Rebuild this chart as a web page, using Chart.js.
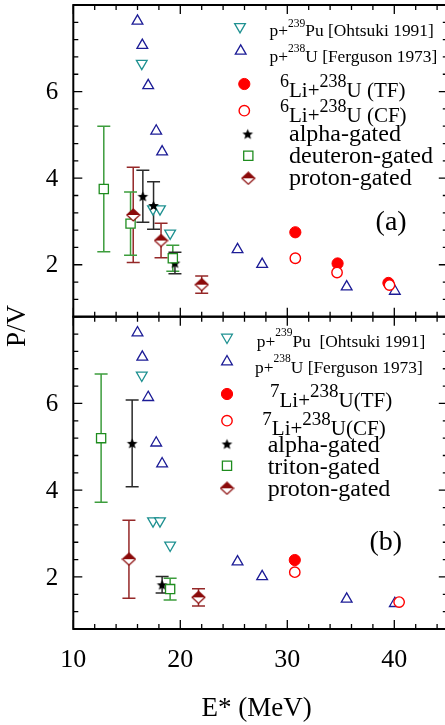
<!DOCTYPE html>
<html lang="en">
<head>
<meta charset="UTF-8" />
<title>P/V vs E*</title>
<script src="https://cdn.jsdelivr.net/npm/chart.js@4.4.1/dist/chart.umd.min.js"></script>
<style>
  html, body { margin: 0; padding: 0; background: #fff; overflow: hidden; }
  #wrap { position: relative; width: 450px; height: 725px; overflow: hidden; }
  canvas { position: absolute; left: 0; top: 0; }
</style>
</head>
<body>
<div id="wrap">
  <canvas id="chartA" width="450" height="725" style="width:450px;height:725px"></canvas>
  <canvas id="chartB" width="450" height="725" style="width:450px;height:725px"></canvas>
</div>
<script>
// reference systematics, same in both panels
const ohtsukiE = [16.4, 17.45, 18.1, 19.05];
const ohtsukiPV = [6.65, 3.29, 3.29, 2.73];
const fergusonE = [16.0, 16.45, 17.0, 17.75, 18.3, 25.35, 27.65, 35.55, 40.05];
const fergusonPV = [7.63, 7.07, 6.14, 5.09, 4.61, 2.35, 2.01, 1.49, 1.39];

// panel (a): 6Li + 238U
const li6TfE = [30.75, 34.7, 39.45];
const li6TfPV = [2.75, 2.03, 1.58];
const li6CfE = [30.75, 34.65, 39.55];
const li6CfPV = [2.15, 1.82, 1.53];
const li6AlphaE = [16.5, 17.5, 19.5];
const li6AlphaPV = [3.58, 3.37, 2.04];
const li6AlphaErr = [0.6, 0.55, 0.25];
const li6DeutE = [12.85, 15.35, 19.3];
const li6DeutPV = [3.75, 2.95, 2.15];
const li6DeutErr = [1.45, 0.73, 0.3];
const li6ProtE = [15.6, 18.2, 22.0];
const li6ProtPV = [3.15, 2.56, 1.54];
const li6ProtErr = [1.1, 0.4, 0.2];

// panel (b): 7Li + 238U
const li7TfE = [30.7];
const li7TfPV = [2.39];
const li7CfE = [30.7, 40.45];
const li7CfPV = [2.11, 1.42];
const li7AlphaE = [15.5, 18.3];
const li7AlphaPV = [5.08, 1.82];
const li7AlphaErr = [1.0, 0.19];
const li7TritE = [12.6, 19.05];
const li7TritPV = [5.2, 1.72];
const li7TritErr = [1.48, 0.25];
const li7ProtE = [15.2, 21.7];
const li7ProtPV = [2.41, 1.53];
const li7ProtErr = [0.9, 0.2];

const xTicks = [10, 20, 30, 40];
const yTicks = [2, 4, 6];
const xMin = 10, xMax = 45, xMinor = 2;
const yMin = 0.8, yMax = 8, yMinor = 0.4;

const legendA = ['p+^{239}Pu [Ohtsuki 1991]', 'p+^{238}U [Ferguson 1973]', '^{6}Li+^{238}U (TF)',
  '^{6}Li+^{238}U (CF)', 'alpha-gated', 'deuteron-gated', 'proton-gated'];
const legendB = ['p+^{239}Pu  [Ohtsuki 1991]', 'p+^{238}U [Ferguson 1973]', '^{7}Li+^{238}U(TF)',
  '^{7}Li+^{238}U(CF)', 'alpha-gated', 'triton-gated', 'proton-gated'];

const FONT = "'Liberation Serif', 'Times New Roman', serif";
Chart.defaults.font.family = FONT;
Chart.defaults.color = '#000';

const teal = '#1f9191', navy = '#1c1c96', red = '#ff0000', green = '#1e8c1e', maroon = '#8b0a0a';

function pts(xs, ys) { return xs.map((x, i) => ({ x: x, y: ys[i] })); }

function starImage(color) {
  const c = document.createElement('canvas');
  c.width = 13; c.height = 13;
  const g = c.getContext('2d');
  const R = 5.6, r = 2.5, cx = 6.5, cy = 7;
  g.beginPath();
  for (let i = 0; i < 10; i++) {
    const a = -Math.PI / 2 + i * Math.PI / 5;
    const rr = i % 2 ? r : R;
    g.lineTo(cx + rr * Math.cos(a), cy + rr * Math.sin(a));
  }
  g.closePath();
  g.fillStyle = color;
  g.fill();
  return c;
}

function halfDiamond(color) {
  const c = document.createElement('canvas');
  c.width = 15; c.height = 14;
  const g = c.getContext('2d');
  const cx = 7.5, cy = 7, w = 6.5, h = 6;
  g.beginPath();
  g.moveTo(cx, cy - h); g.lineTo(cx + w, cy); g.lineTo(cx, cy + h); g.lineTo(cx - w, cy); g.closePath();
  g.fillStyle = '#fff'; g.fill();
  g.beginPath();
  g.moveTo(cx, cy - h); g.lineTo(cx + w, cy); g.lineTo(cx - w, cy); g.closePath();
  g.fillStyle = color; g.fill();
  g.beginPath();
  g.moveTo(cx, cy - h); g.lineTo(cx + w, cy); g.lineTo(cx, cy + h); g.lineTo(cx - w, cy); g.closePath();
  g.strokeStyle = color; g.lineWidth = 1.2; g.stroke();
  return c;
}

const starImg = starImage('#000');
const diamondImg = halfDiamond(maroon);

// marker styles, used for the plot and for the hand drawn legend
const mOhtsuki = { pointStyle: 'triangle', pointRotation: 180, pointRadius: 6.2, pointBorderColor: teal, pointBackgroundColor: '#fff', pointBorderWidth: 1.3 };
const mFerguson = { pointStyle: 'triangle', pointRotation: 0, pointRadius: 6.2, pointBorderColor: navy, pointBackgroundColor: '#fff', pointBorderWidth: 1.3 };
const mTF = { pointStyle: 'circle', pointRadius: 5.6, pointBorderColor: red, pointBackgroundColor: red, pointBorderWidth: 1 };
const mCF = { pointStyle: 'circle', pointRadius: 5.2, pointBorderColor: red, pointBackgroundColor: '#fff', pointBorderWidth: 1.4 };
const mAlpha = { pointStyle: starImg, pointRadius: 6 };
const mLight = { pointStyle: 'rect', pointRadius: 6.5, pointBorderColor: green, pointBackgroundColor: '#fff', pointBorderWidth: 1.3 };
const mProt = { pointStyle: diamondImg, pointRadius: 6 };
const legendMarkers = [mOhtsuki, mFerguson, mTF, mCF, mAlpha, mLight, mProt];

function panelDatasets(p) {
  // first dataset is drawn on top
  return [
    Object.assign({ label: 'proton-gated', data: pts(p.protE, p.protPV), err: p.protErr, errColor: '#952828' }, mProt),
    Object.assign({ label: p.lightName, data: pts(p.lightE, p.lightPV), err: p.lightErr, errColor: '#3d9d3d' }, mLight),
    Object.assign({ label: 'alpha-gated', data: pts(p.alphaE, p.alphaPV), err: p.alphaErr, errColor: '#2a2a2a' }, mAlpha),
    Object.assign({ label: 'CF', data: pts(p.cfE, p.cfPV) }, mCF),
    Object.assign({ label: 'TF', data: pts(p.tfE, p.tfPV) }, mTF),
    Object.assign({ label: 'Ferguson 1973', data: pts(fergusonE, fergusonPV) }, mFerguson),
    Object.assign({ label: 'Ohtsuki 1991', data: pts(ohtsukiE, ohtsukiPV) }, mOhtsuki)
  ];
}

const errorBars = {
  id: 'errorBars',
  beforeDatasetsDraw(chart) {
    const ctx = chart.ctx, xs = chart.scales.x, ys = chart.scales.y;
    ctx.save();
    ctx.lineWidth = 1.5;
    chart.data.datasets.forEach(ds => {
      if (!ds.err) return;
      ctx.strokeStyle = ds.errColor;
      ds.data.forEach((p, j) => {
        const px = xs.getPixelForValue(p.x);
        const top = ys.getPixelForValue(p.y + ds.err[j]);
        const bot = ys.getPixelForValue(p.y - ds.err[j]);
        ctx.beginPath();
        ctx.moveTo(px, top); ctx.lineTo(px, bot);
        ctx.moveTo(px - 6.5, top); ctx.lineTo(px + 6.5, top);
        ctx.moveTo(px - 6.5, bot); ctx.lineTo(px + 6.5, bot);
        ctx.stroke();
      });
    });
    ctx.restore();
  }
};

// box, inward ticks and tick labels (the Chart.js axes are hidden so the plot area is exact)
function framePlugin(bottom) {
  return {
    id: 'frame',
    afterDraw(chart) {
      const ctx = chart.ctx, a = chart.chartArea, xs = chart.scales.x, ys = chart.scales.y;
      ctx.save();
      ctx.strokeStyle = '#000';
      ctx.lineWidth = 2;
      ctx.strokeRect(a.left, a.top, a.right - a.left, a.bottom - a.top);
      ctx.lineWidth = 1.3;
      ctx.beginPath();
      const nx = Math.round((xMax - xMin) / xMinor);
      for (let i = 0; i <= nx; i++) {
        const v = xMin + i * xMinor;
        const px = xs.getPixelForValue(v);
        const len = v % 10 === 0 ? 9 : 5;
        ctx.moveTo(px, a.bottom); ctx.lineTo(px, a.bottom - len);
        ctx.moveTo(px, a.top); ctx.lineTo(px, a.top + len);
      }
      const ny = Math.round((yMax - yMin) / yMinor);
      for (let i = 0; i <= ny; i++) {
        const v = yMin + i * yMinor;
        const py = ys.getPixelForValue(v);
        const major = Math.abs(v / 2 - Math.round(v / 2)) < 1e-6;
        const len = major ? 9 : 5;
        ctx.moveTo(a.left, py); ctx.lineTo(a.left + len, py);
        ctx.moveTo(a.right, py); ctx.lineTo(a.right - len, py);
      }
      ctx.stroke();

      ctx.fillStyle = '#000';
      ctx.font = '25px ' + FONT;
      ctx.textAlign = 'right';
      ctx.textBaseline = 'middle';
      yTicks.forEach(v => ctx.fillText(String(v), a.left - 15, ys.getPixelForValue(v) + 1));
      if (bottom) {
        ctx.font = '26px ' + FONT;
        ctx.textAlign = 'center';
        xTicks.forEach(v => ctx.fillText(String(v), xs.getPixelForValue(v), a.bottom + 31));
        ctx.font = '27px ' + FONT;
        ctx.fillText('E* (MeV)', 256.7, 709);
      }
      ctx.restore();
    }
  };
}

function drawRich(ctx, str, x, y, base, sup, raise) {
  const parts = str.split(/(\^\{[^}]*\})/).filter(Boolean);
  let cx = x;
  parts.forEach(part => {
    const isSup = part.startsWith('^{');
    const t = isSup ? part.slice(2, -1) : part;
    ctx.font = (isSup ? sup : base) + 'px ' + FONT;
    ctx.fillText(t, cx, isSup ? y - raise : y);
    cx += ctx.measureText(t).width;
  });
}

function drawMarker(ctx, m, x, y) {
  if (typeof m.pointStyle !== 'string') {
    ctx.drawImage(m.pointStyle, x - m.pointStyle.width / 2, y - m.pointStyle.height / 2);
    return;
  }
  const r = m.pointRadius;
  ctx.beginPath();
  if (m.pointStyle === 'circle') {
    ctx.arc(x, y, r, 0, Math.PI * 2);
  } else if (m.pointStyle === 'rect') {
    const s = r * Math.SQRT1_2;
    ctx.rect(x - s, y - s, 2 * s, 2 * s);
  } else {
    const rot = (m.pointRotation || 0) * Math.PI / 180;
    for (let k = 0; k < 3; k++) {
      const ang = rot + k * 2 * Math.PI / 3;
      ctx.lineTo(x + Math.sin(ang) * r, y - Math.cos(ang) * r);
    }
    ctx.closePath();
  }
  ctx.fillStyle = m.pointBackgroundColor;
  ctx.fill();
  ctx.lineWidth = m.pointBorderWidth;
  ctx.strokeStyle = m.pointBorderColor;
  ctx.stroke();
}

function legendPlugin(labels, lay) {
  return {
    id: 'pvLegend',
    afterDatasetsDraw(chart) {
      const ctx = chart.ctx;
      ctx.save();
      ctx.textBaseline = 'alphabetic';
      ctx.textAlign = 'left';
      labels.forEach((lab, i) => {
        drawMarker(ctx, legendMarkers[i], lay.mx[i], lay.my[i]);
        const f = lay.font[i];
        ctx.fillStyle = '#000';
        drawRich(ctx, lab, lay.tx[i], lay.ty[i], f[0], f[1] || f[0], f[2] || 0);
      });
      ctx.restore();
    }
  };
}

function panelTag(text, xv, yv) {
  return {
    id: 'panelTag',
    afterDatasetsDraw(chart) {
      const ctx = chart.ctx;
      ctx.save();
      ctx.font = '28px ' + FONT;
      ctx.fillStyle = '#000';
      ctx.textAlign = 'center';
      ctx.textBaseline = 'alphabetic';
      ctx.fillText(text, chart.scales.x.getPixelForValue(xv), chart.scales.y.getPixelForValue(yv));
      ctx.restore();
    }
  };
}

const yTitle = {
  id: 'yTitle',
  afterDraw(chart) {
    const ctx = chart.ctx;
    ctx.save();
    ctx.translate(18, 326);
    ctx.rotate(-Math.PI / 2);
    ctx.font = '27px ' + FONT;
    ctx.fillStyle = '#000';
    ctx.textAlign = 'center';
    ctx.textBaseline = 'middle';
    ctx.fillText('P/V', 0, 0);
    ctx.restore();
  }
};

function makeChart(id, p, bottom, extra) {
  return new Chart(document.getElementById(id), {
    type: 'scatter',
    data: { datasets: panelDatasets(p) },
    options: {
      responsive: false,
      animation: false,
      events: [],
      layout: {
        autoPadding: false,
        padding: bottom ? { left: 73.3, top: 316.7, right: 2.2, bottom: 96 }
                        : { left: 73.3, top: 5, right: 2.2, bottom: 408.3 }
      },
      plugins: { legend: { display: false }, tooltip: { enabled: false } },
      scales: {
        x: { type: 'linear', min: xMin, max: xMax, display: false },
        y: { type: 'linear', min: yMin, max: yMax, display: false }
      }
    },
    plugins: [errorBars, framePlugin(bottom)].concat(extra)
  });
}

makeChart('chartA', {
  tfE: li6TfE, tfPV: li6TfPV, cfE: li6CfE, cfPV: li6CfPV,
  alphaE: li6AlphaE, alphaPV: li6AlphaPV, alphaErr: li6AlphaErr,
  lightName: 'deuteron-gated', lightE: li6DeutE, lightPV: li6DeutPV, lightErr: li6DeutErr,
  protE: li6ProtE, protPV: li6ProtPV, protErr: li6ProtErr
}, false, [
  legendPlugin(legendA, {
    mx: [240, 240.7, 244.3, 244.3, 247.7, 248.3, 248.3],
    my: [26.7, 51, 84, 110.7, 134, 155.7, 178.3],
    tx: [269.5, 269.5, 280, 280, 289, 289, 289],
    ty: [36, 62, 96.7, 122, 140.5, 163, 184.5],
    font: [[17.4, 11.5, 9.5], [17.4, 11.5, 10], [21, 18, 10], [21, 18, 10], [24], [24], [24]]
  }),
  panelTag('(a)', 39.7, 2.8),
  yTitle
]);

makeChart('chartB', {
  tfE: li7TfE, tfPV: li7TfPV, cfE: li7CfE, cfPV: li7CfPV,
  alphaE: li7AlphaE, alphaPV: li7AlphaPV, alphaErr: li7AlphaErr,
  lightName: 'triton-gated', lightE: li7TritE, lightPV: li7TritPV, lightErr: li7TritErr,
  protE: li7ProtE, protPV: li7ProtPV, protErr: li7ProtErr
}, true, [
  legendPlugin(legendB, {
    mx: [227, 227, 227, 227, 227, 227, 227],
    my: [337.3, 361.7, 394, 420.7, 444, 465.7, 488.3],
    tx: [256.7, 255, 270, 262.3, 267.7, 267.7, 267.7],
    ty: [346.7, 373.3, 407.3, 435, 452, 473.5, 495.5],
    font: [[17.4, 11.5, 11], [17.4, 11.5, 11], [21, 19, 10], [21, 19, 10], [24], [24], [24]]
  }),
  panelTag('(b)', 39.2, 2.62)
]);
</script>
</body>
</html>
